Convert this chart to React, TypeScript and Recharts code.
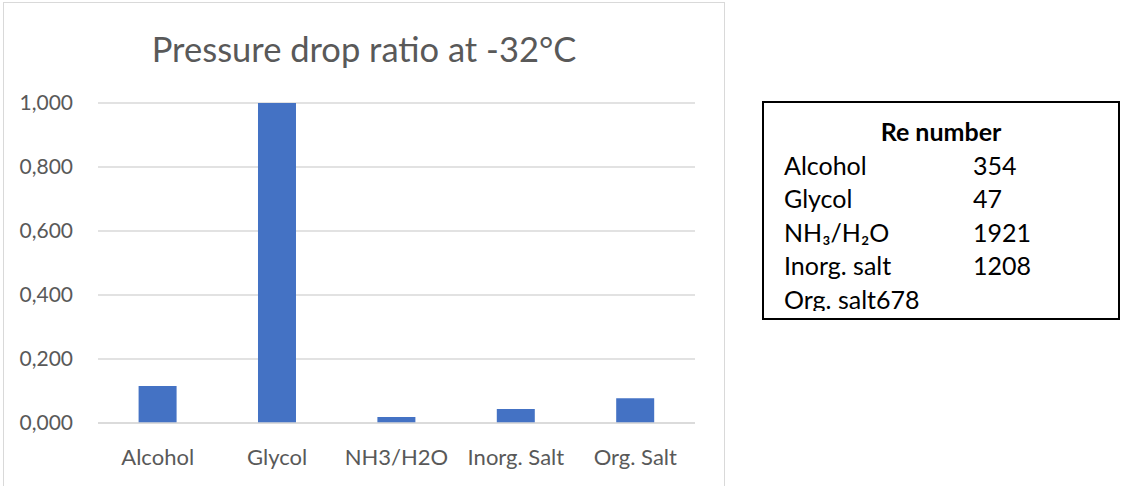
import { Bar, BarChart, CartesianGrid, XAxis, YAxis } from "recharts";

const categories = ["Alcohol", "Glycol", "NH3/H2O", "Inorg. Salt", "Org. Salt"];
const ratios = [0.116, 1.0, 0.019, 0.044, 0.077];
const yTicks = [0, 0.2, 0.4, 0.6, 0.8, 1.0];

const reLabels = ["Alcohol", "Glycol", "NH₃/H₂O", "Inorg. salt", "Org. salt"];
const reValues = [354, 47, 1921, 1208, 678];

const data = categories.map((name, i) => ({ name, value: ratios[i] }));

const font = "Lato, 'Source Sans Pro', sans-serif";
const grey = "#595959";

export default function App() {
  return (
    <div
      style={{
        position: "absolute",
        left: 0,
        top: 0,
        width: 1121,
        height: 486,
        overflow: "hidden",
        background: "#fff",
        fontFamily: font,
      }}
    >
      <div
        style={{
          position: "absolute",
          left: 3,
          top: 2,
          width: 720,
          height: 500,
          border: "1px solid #d9d9d9",
        }}
      >
        <div
          style={{
            position: "absolute",
            left: 0,
            top: 25,
            width: 720,
            textAlign: "center",
            fontSize: 34.5,
            color: grey,
            lineHeight: "42px",
          }}
        >
          Pressure drop ratio at -32°C
        </div>
        <BarChart
          width={720}
          height={485}
          data={data}
          margin={{ top: 100, right: 29, left: 0, bottom: 20 }}
          barCategoryGap="34%"
        >
          <CartesianGrid vertical={false} stroke="#d9d9d9" strokeWidth={1.5} />
          <XAxis
            dataKey="name"
            height={45}
            axisLine={{ stroke: "#d9d9d9", strokeWidth: 1.5 }}
            tickLine={false}
            tickSize={0}
            tickMargin={26}
            tick={{ fill: grey, fontSize: 22, fontFamily: font }}
            interval={0}
          />
          <YAxis
            width={94}
            domain={[0, 1]}
            ticks={yTicks}
            axisLine={false}
            tickLine={false}
            tickSize={0}
            tickMargin={25}
            tick={{ fill: grey, fontSize: 21, fontFamily: font }}
            tickFormatter={(v: number) => v.toFixed(3).replace(".", ",")}
          />
          <Bar dataKey="value" fill="#4472C4" isAnimationActive={false} />
        </BarChart>
      </div>

      <div
        style={{
          position: "absolute",
          left: 762,
          top: 101,
          width: 354,
          height: 215,
          border: "2px solid #000",
          color: "#000",
          fontSize: 25,
        }}
      >
        <div style={{ height: 208, overflow: "hidden", paddingLeft: 20 }}>
          <div
            style={{
              textAlign: "center",
              fontWeight: "bold",
              lineHeight: "33.5px",
              paddingTop: 12,
              paddingRight: 20,
            }}
          >
            Re number
          </div>
          {reLabels.map((label, i) =>
            i === reLabels.length - 1 ? (
              <div key={label} style={{ lineHeight: "33px", whiteSpace: "nowrap" }}>
                {label}
                {reValues[i]}
              </div>
            ) : (
              <div key={label} style={{ display: "flex", lineHeight: "33.5px" }}>
                <span style={{ width: 189 }}>{label}</span>
                <span>{reValues[i]}</span>
              </div>
            )
          )}
        </div>
      </div>
    </div>
  );
}
